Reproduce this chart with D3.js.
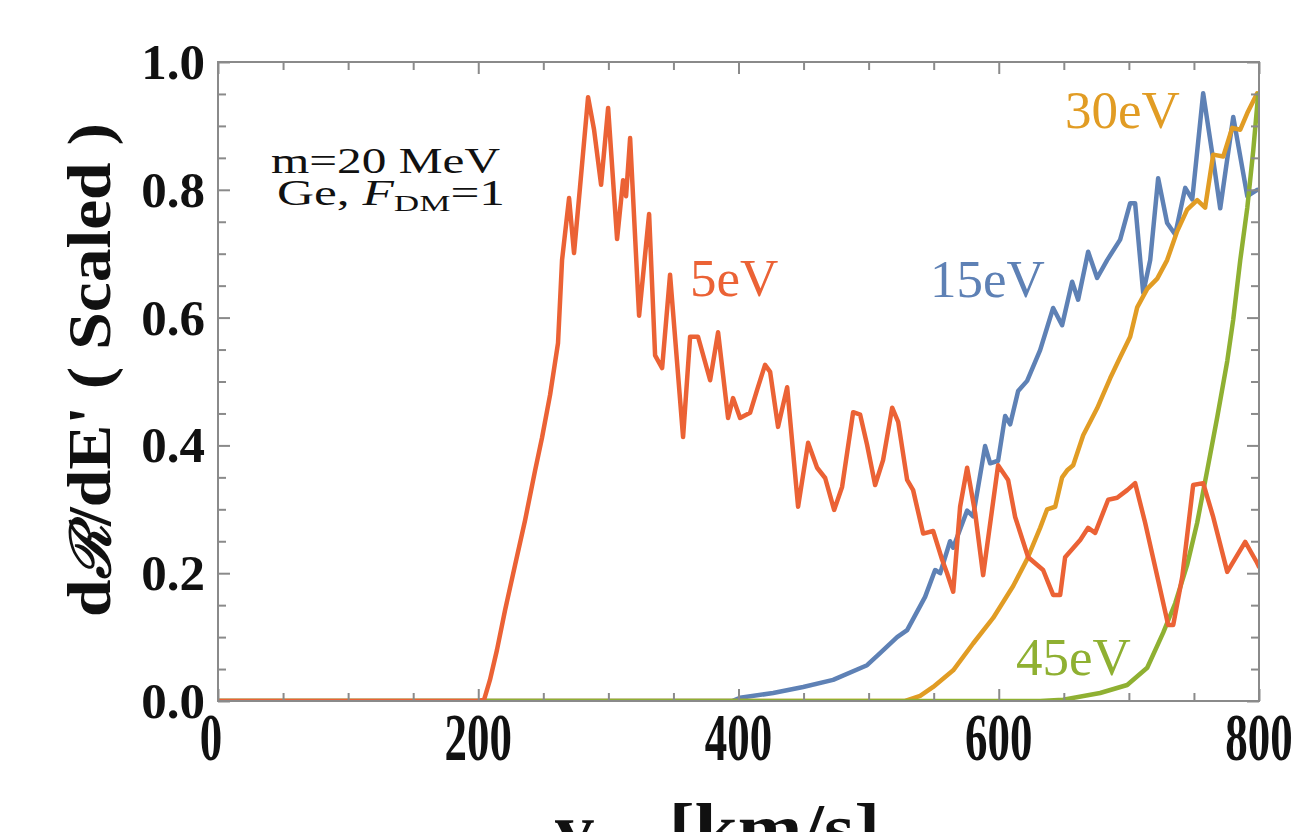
<!DOCTYPE html>
<html>
<head>
<meta charset="utf-8">
<script src="https://cdn.jsdelivr.net/npm/d3@7"></script>
<style>
  html, body { margin: 0; padding: 0; background: #fff; }
  svg { display: block; }
</style>
</head>
<body>
<svg id="chart" width="1294" height="832"></svg>
<script>
// ---- data ----
const xTicksMajor = [0, 200, 400, 600, 800];
const yTicksMajor = [0.0, 0.2, 0.4, 0.6, 0.8, 1.0];
const yTickLabels = ["0.0", "0.2", "0.4", "0.6", "0.8", "1.0"];

const series5eV = [
  [0,0],[200,0],[204.5,0.002],[209,0.033],[214.4,0.08],[220.6,0.142],[228.3,0.213],[236,0.283],
  [243.7,0.361],[249,0.412],[255.2,0.479],[261.3,0.56],[264.4,0.69],[269.8,0.787],[273.6,0.701],
  [278.2,0.804],[284.4,0.945],[289,0.894],[294.4,0.808],[299.8,0.928],[306.7,0.723],[311.3,0.815],
  [313.6,0.79],[316.7,0.881],[323.6,0.603],[331.3,0.762],[335.9,0.541],[341.3,0.521],[347.4,0.667],
  [357.4,0.413],[362.8,0.57],[368.9,0.57],[378.2,0.502],[384.3,0.577],[392,0.443],[395.8,0.474],
  [401.2,0.443],[408.9,0.451],[414.3,0.487],[420.4,0.526],[424.3,0.515],[430.4,0.429],[437.4,0.491],
  [445.8,0.304],[453.5,0.404],[460.4,0.365],[466.6,0.349],[473.5,0.299],[479.6,0.335],[488.1,0.452],
  [493.5,0.448],[498.8,0.401],[505,0.338],[511.1,0.377],[518.1,0.459],[522.7,0.437],[529.6,0.346],
  [534.2,0.33],[541.9,0.262],[549.6,0.266],[556.5,0.221],[560.3,0.2],[565,0.171],[570.3,0.304],
  [575.7,0.365],[581.9,0.294],[588,0.197],[599.5,0.369],[607.2,0.346],[612.6,0.288],[622.6,0.225],
  [634.1,0.205],[641.8,0.166],[647.2,0.166],[651,0.225],[662.6,0.252],[668.7,0.271],[674.1,0.263],
  [684.1,0.315],[691,0.318],[698.7,0.33],[704.8,0.341],[712.5,0.279],[722.5,0.189],[730.2,0.119],
  [734.1,0.119],[741,0.194],[749.4,0.338],[757.1,0.341],[764.8,0.288],[775.6,0.202],[789.4,0.249],
  [798.6,0.216],[800,0.21]
];
const series15eV = [
  [0,0],[395,0],[401.2,0.005],[426.6,0.0125],[449.7,0.022],[472.7,0.033],[498.8,0.056],[508.8,0.075],
  [521.9,0.1],[529.6,0.111],[543.4,0.163],[551.1,0.205],[555,0.2],[562.6,0.25],[565,0.24],
  [575.7,0.298],[580.3,0.289],[589.5,0.399],[593.4,0.372],[599.5,0.376],[604.9,0.446],[608.8,0.433],
  [614.9,0.485],[621.8,0.501],[631.8,0.549],[641.8,0.615],[648.7,0.588],[656.4,0.656],[661,0.628],
  [668.7,0.703],[675.6,0.662],[683.3,0.69],[693.3,0.722],[701,0.779],[704.8,0.779],[711,0.639],
  [716.4,0.69],[722.5,0.818],[729.4,0.748],[735.6,0.73],[743.3,0.803],[748.7,0.785],[757.1,0.951],
  [764.8,0.847],[770.2,0.771],[780.2,0.914],[791,0.79],[798.6,0.8]
];
const series30eV = [
  [0,0],[528.1,0],[539.6,0.008],[549.6,0.022],[565,0.048],[580.3,0.09],[595.7,0.13],[611.1,0.18],
  [621.8,0.222],[631.8,0.271],[637.2,0.3],[643.4,0.304],[648.7,0.35],[652.6,0.361],[657.2,0.369],
  [664.9,0.416],[675.6,0.458],[685.6,0.505],[693.3,0.538],[701,0.57],[706.4,0.616],[714.1,0.645],
  [721.8,0.661],[729.4,0.69],[737.1,0.735],[744.8,0.769],[752.5,0.784],[758.6,0.772],[764.8,0.855],
  [772.5,0.852],[779.4,0.897],[785.6,0.894],[791,0.92],[798.6,0.951]
];
const series45eV = [
  [0,0],[631.8,0],[649.5,0.002],[677.9,0.0125],[698.7,0.025],[714.1,0.052],[726.4,0.107],
  [735.6,0.153],[744.8,0.213],[752.5,0.279],[760.2,0.361],[767.9,0.444],[775.6,0.532],[780.2,0.597],
  [785.6,0.69],[791,0.772],[795.6,0.862],[799.4,0.95]
];
const seriesNames = ["15eV", "30eV", "45eV", "5eV"];

// ---- layout ----
const svg = d3.select("#chart");
const L = 218, R = 1259, T = 62, B = 701;
const x = d3.scaleLinear().domain([0, 800]).range([L, R]);
const y = d3.scaleLinear().domain([0, 1]).range([B, T]);
const serif = "'Liberation Serif','Times New Roman',serif";
const frameColor = "#8a8a8a";

const colors = { "15eV": "#5E81B5", "30eV": "#E19C24", "45eV": "#8FB032", "5eV": "#EB6235" };
const dataMap = { "15eV": series15eV, "30eV": series30eV, "45eV": series45eV, "5eV": series5eV };

// clip
svg.append("defs").append("clipPath").attr("id", "plotclip")
  .append("rect").attr("x", L).attr("y", T - 2).attr("width", R - L).attr("height", B - T + 2);

// curves
const line = d3.line().x(d => x(d[0])).y(d => y(d[1]));
const curves = svg.append("g").attr("clip-path", "url(#plotclip)");
seriesNames.forEach(n => {
  curves.append("path").datum(dataMap[n])
    .attr("d", line).attr("fill", "none")
    .attr("stroke", colors[n]).attr("stroke-width", 4.5)
    .attr("stroke-linejoin", "round").attr("stroke-linecap", "round");
});

// ticks (inside, all four sides)
const xMinor = d3.range(0, 801, 50).filter(v => v % 200 !== 0);
const yMinor = d3.range(0, 21).map(i => i * 0.05).filter((v, i) => i % 4 !== 0);

function styleAxis(g) {
  g.select(".domain").remove();
  g.selectAll(".tick line").attr("stroke", frameColor).attr("stroke-width", 2);
}
svg.append("g").attr("transform", `translate(0,${B})`)
  .call(d3.axisBottom(x).tickValues(xTicksMajor).tickSize(-12).tickFormat("")).call(styleAxis);
svg.append("g").attr("transform", `translate(0,${B})`)
  .call(d3.axisBottom(x).tickValues(xMinor).tickSize(-8).tickFormat("")).call(styleAxis);
svg.append("g").attr("transform", `translate(0,${T})`)
  .call(d3.axisTop(x).tickValues(xTicksMajor).tickSize(-12).tickFormat("")).call(styleAxis);
svg.append("g").attr("transform", `translate(0,${T})`)
  .call(d3.axisTop(x).tickValues(xMinor).tickSize(-8).tickFormat("")).call(styleAxis);
svg.append("g").attr("transform", `translate(${L},0)`)
  .call(d3.axisLeft(y).tickValues(yTicksMajor).tickSize(-12).tickFormat("")).call(styleAxis);
svg.append("g").attr("transform", `translate(${L},0)`)
  .call(d3.axisLeft(y).tickValues(yMinor).tickSize(-8).tickFormat("")).call(styleAxis);
svg.append("g").attr("transform", `translate(${R},0)`)
  .call(d3.axisRight(y).tickValues(yTicksMajor).tickSize(-12).tickFormat("")).call(styleAxis);
svg.append("g").attr("transform", `translate(${R},0)`)
  .call(d3.axisRight(y).tickValues(yMinor).tickSize(-8).tickFormat("")).call(styleAxis);

// frame
svg.append("rect").attr("x", L).attr("y", T).attr("width", R - L).attr("height", B - T)
  .attr("fill", "none").attr("stroke", frameColor).attr("stroke-width", 2);

// y tick labels
svg.append("g").selectAll("text").data(yTicksMajor).join("text")
  .attr("x", L - 13).attr("y", d => y(d) + 17)
  .attr("text-anchor", "end")
  .attr("font-family", serif).attr("font-weight", "bold").attr("font-size", 51)
  .attr("fill", "#111")
  .text((d, i) => yTickLabels[i]);

// x tick labels (tall, condensed look)
svg.append("g").selectAll("text").data(xTicksMajor).join("text")
  .attr("transform", d => `translate(${x(d) - (d === 0 ? 7 : 0)},760) scale(0.66,1)`)
  .attr("text-anchor", "middle")
  .attr("font-family", serif).attr("font-weight", "bold").attr("font-size", 68)
  .attr("fill", "#111")
  .text(d => d3.format("d")(d));

// y axis title
const yt = svg.append("text")
  .attr("transform", "translate(110,370) rotate(-90)")
  .attr("text-anchor", "middle")
  .attr("font-family", serif).attr("font-weight", "bold").attr("font-size", 62)
  .attr("fill", "#111")
  .attr("textLength", 494).attr("lengthAdjust", "spacingAndGlyphs");
yt.append("tspan").text("d");
yt.append("tspan").attr("font-style", "italic").attr("font-family", "'DejaVu Serif',serif").attr("font-size", 56).text("ℛ");
yt.append("tspan").text("/dE' ( Scaled )");

// x axis title (cut off at the bottom, as in the reference)
const xt = svg.append("text")
  .attr("x", 555).attr("y", 852)
  .attr("text-anchor", "start")
  .attr("font-family", serif).attr("font-weight", "bold").attr("font-size", 70)
  .attr("fill", "#111")
  .attr("textLength", 325).attr("lengthAdjust", "spacingAndGlyphs");
xt.append("tspan").text("v");
xt.append("tspan").attr("font-size", 30).attr("dy", 12).text("min");
xt.append("tspan").attr("dy", -12).text(" [km/s]");

// annotation
svg.append("text").attr("x", 271).attr("y", 173)
  .attr("font-family", serif).attr("font-size", 35).attr("fill", "#111")
  .attr("textLength", 229).attr("lengthAdjust", "spacingAndGlyphs")
  .text("m=20 MeV");
const ge = svg.append("text").attr("x", 277).attr("y", 205)
  .attr("font-family", serif).attr("font-size", 35).attr("fill", "#111")
  .attr("textLength", 228).attr("lengthAdjust", "spacingAndGlyphs");
ge.append("tspan").text("Ge, ");
ge.append("tspan").attr("font-style", "italic").text("F");
ge.append("tspan").attr("font-size", 24).attr("dy", 6).text("DM");
ge.append("tspan").attr("dy", -6).text("=1");

// curve labels
const curveLabels = [
  { name: "5eV", x: 690, y: 296 },
  { name: "15eV", x: 930, y: 297 },
  { name: "30eV", x: 1065, y: 128 },
  { name: "45eV", x: 1016, y: 675 }
];
svg.append("g").selectAll("text").data(curveLabels).join("text")
  .attr("x", d => d.x).attr("y", d => d.y)
  .attr("font-family", serif).attr("font-size", 53)
  .attr("fill", d => colors[d.name])
  .text(d => d.name);
</script>
</body>
</html>
